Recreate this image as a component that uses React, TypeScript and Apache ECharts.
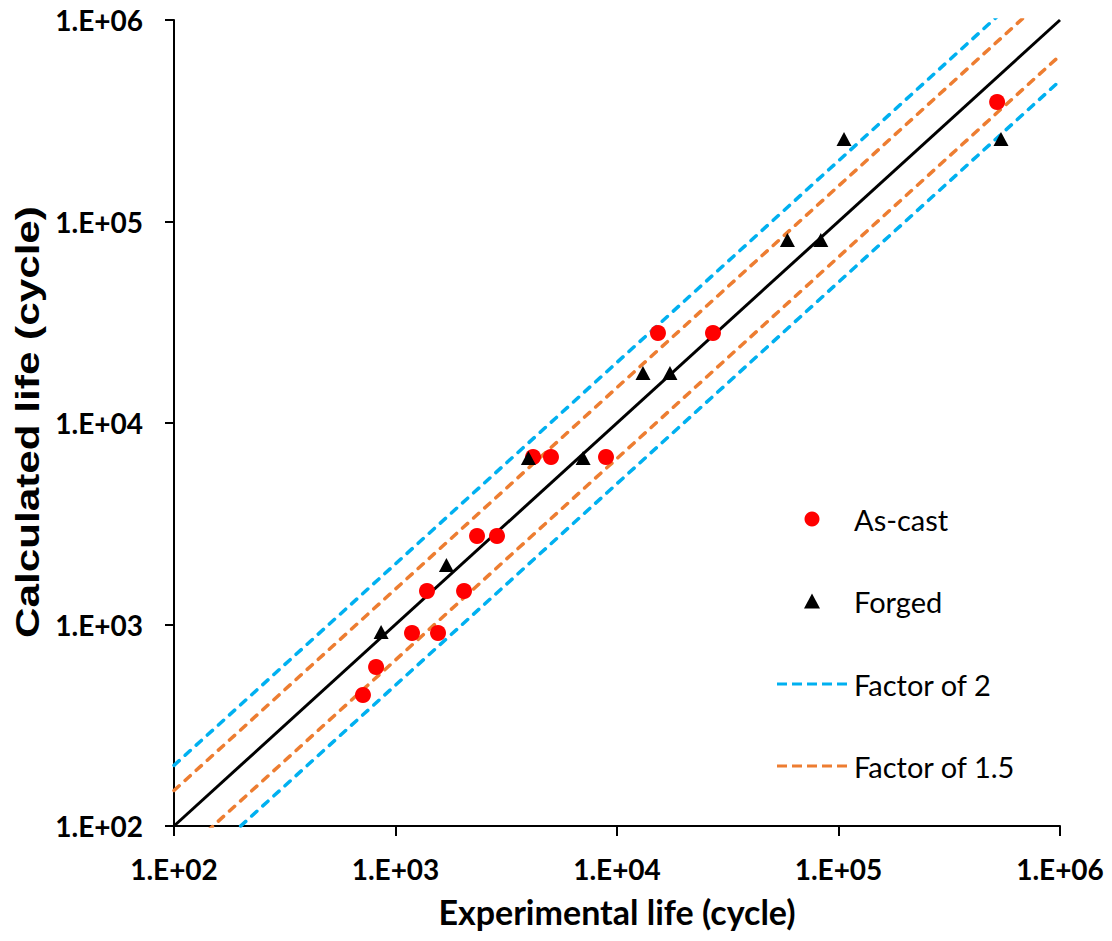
import React, { useEffect, useRef } from "react";
import * as echarts from "echarts";

const asCastExp = [713, 817, 1187, 1556, 1387, 2039, 2334, 2872, 4178, 5035, 8920, 15310, 27120, 520000];
const asCastCalc = [447, 615, 907, 907, 1466, 1466, 2749, 2749, 6780, 6780, 6780, 27980, 27980, 391700];
const forgedExp = [861, 1698, 3981, 7030, 13100, 17340, 58800, 83200, 105900, 541500];
const forgedCalc = [918, 1973, 6700, 6700, 17700, 17700, 80900, 80900, 256700, 256700];
const tickLabels = ["1.E+02", "1.E+03", "1.E+04", "1.E+05", "1.E+06"];
const axisMin = 100;
const axisMax = 1000000;
const factors = [2, 1.5];

const fmt = (v: number) => {
  const e = Math.round(Math.log10(v));
  return tickLabels[e - 2] ?? "";
};

const factorLine = (f: number) => [
  [axisMin, axisMin * f],
  [axisMax, axisMax * f],
];

const dashIcon =
  "path://M0,0h10v3h-10z M15,0h10v3h-10z M30,0h10v3h-10z M45,0h10v3h-10z M60,0h10v3h-10z";

export default function App() {
  const ref = useRef<HTMLDivElement>(null);
  useEffect(() => {
    if (!ref.current) return;
    const chart = echarts.init(ref.current, null, { renderer: "svg" });
    const tickFont = { fontFamily: "Lato", fontWeight: "bold" as const, fontSize: 28, color: "#000" };
    const dashed = (color: string) => ({ color, width: 3.5, type: [7, 8] as any, cap: "round" as const });
    const legendText = { fontFamily: "Lato", fontSize: 29, color: "#000", lineHeight: 30 };
    chart.setOption({
      animation: false,
      backgroundColor: "#fff",
      grid: { left: 174, top: 20, right: 52, bottom: 115, containLabel: false },
      xAxis: {
        type: "log",
        logBase: 10,
        min: axisMin,
        max: axisMax,
        name: "Experimental life (cycle)",
        nameLocation: "middle",
        nameGap: 66,
        nameTextStyle: { fontFamily: "Lato", fontWeight: "bold", fontSize: 34, color: "#000", lineHeight: 38 },
        axisLine: { lineStyle: { color: "#000", width: 2 } },
        axisTick: { show: true, inside: false, length: 10, lineStyle: { color: "#000", width: 2 } },
        minorTick: { show: false },
        splitLine: { show: false },
        axisLabel: { ...tickFont, margin: 29, formatter: fmt },
      },
      yAxis: {
        type: "log",
        logBase: 10,
        min: axisMin,
        max: axisMax,
        axisLine: { show: true, lineStyle: { color: "#000", width: 2 } },
        axisTick: { show: true, inside: false, length: 9, lineStyle: { color: "#000", width: 2 } },
        splitLine: { show: false },
        axisLabel: { ...tickFont, margin: 31, formatter: fmt },
      },
      graphic: [
        {
          type: "text",
          x: 28,
          y: 422,
          rotation: Math.PI / 2,
          scaleX: 1.28,
          style: {
            text: "Calculated life (cycle)",
            font: "bold 33px 'Liberation Sans'",
            fill: "#000",
            textAlign: "center",
            textVerticalAlign: "middle",
          },
        },
      ],
      legend: [
        {
          orient: "vertical",
          left: 799,
          top: 499,
          itemWidth: 16,
          itemHeight: 15,
          itemGap: 52,
          textStyle: { ...legendText, padding: [0, 0, 0, 29] },
          data: [
            { name: "As-cast", icon: "circle" },
            { name: "Forged", icon: "triangle" },
          ],
        },
        {
          orient: "vertical",
          left: 772,
          top: 664,
          itemWidth: 70,
          itemHeight: 3,
          itemGap: 52,
          textStyle: { ...legendText, padding: [0, 0, 0, 2] },
          data: [
            { name: "Factor of 2", icon: dashIcon },
            { name: "Factor of 1.5", icon: dashIcon },
          ],
        },
      ],
      series: [
        {
          name: "1:1",
          type: "line",
          data: [
            [axisMin, axisMin],
            [axisMax, axisMax],
          ],
          symbol: "none",
          lineStyle: { color: "#000", width: 3 },
          clip: true,
          z: 2,
        },
        {
          name: "Factor of 2",
          type: "line",
          data: factorLine(factors[0]),
          symbol: "none",
          lineStyle: dashed("#00B0F0"),
          itemStyle: { color: "#00B0F0" },
          clip: true,
          z: 1,
        },
        {
          name: "Factor of 2 low",
          type: "line",
          data: factorLine(1 / factors[0]),
          symbol: "none",
          lineStyle: dashed("#00B0F0"),
          clip: true,
          z: 1,
        },
        {
          name: "Factor of 1.5",
          type: "line",
          data: factorLine(factors[1]),
          symbol: "none",
          lineStyle: dashed("#ED7D31"),
          itemStyle: { color: "#ED7D31" },
          clip: true,
          z: 1,
        },
        {
          name: "Factor of 1.5 low",
          type: "line",
          data: factorLine(1 / factors[1]),
          symbol: "none",
          lineStyle: dashed("#ED7D31"),
          clip: true,
          z: 1,
        },
        {
          name: "As-cast",
          type: "scatter",
          data: asCastExp.map((x, i) => [x, asCastCalc[i]]),
          symbol: "circle",
          symbolSize: 16,
          itemStyle: { color: "#FF0000", opacity: 1 },
          z: 3,
        },
        {
          name: "Forged",
          type: "scatter",
          data: forgedExp.map((x, i) => [x, forgedCalc[i]]),
          symbol: "triangle",
          symbolSize: [15, 14],
          itemStyle: { color: "#000", opacity: 1 },
          z: 4,
        },
      ],
    });
    return () => chart.dispose();
  }, []);
  return <div ref={ref} style={{ width: 1112, height: 941, margin: -8 }} />;
}
